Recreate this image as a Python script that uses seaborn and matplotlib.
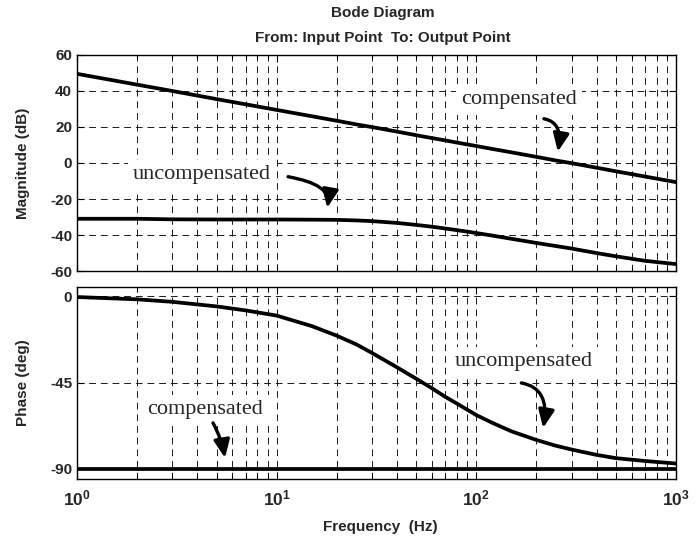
import numpy as np
import pandas as pd
import matplotlib
matplotlib.use("Agg")
import matplotlib.pyplot as plt
import seaborn as sns

# ---------------- data ----------------
freq = [1, 1.5, 2, 3, 5, 7, 10, 15, 20, 25, 30, 40, 50, 60, 70, 80, 100,
        120, 150, 200, 250, 300, 400, 500, 700, 1000]
mag_compensated = [49.4, 45.9, 43.4, 39.9, 35.4, 32.5, 29.4, 25.9, 23.4, 21.4,
                   19.9, 17.4, 15.4, 13.8, 12.5, 11.3, 9.4, 7.8, 5.9, 3.4,
                   1.4, -0.1, -2.6, -4.6, -7.5, -10.6]
mag_uncompensated = [-30.9, -30.9, -30.9, -31.2, -31.3, -31.3, -31.3, -31.4,
                     -31.5, -31.8, -32.2, -33.2, -34.3, -35.3, -36.3, -37.2,
                     -38.8, -40.2, -42.0, -44.3, -46.0, -47.4, -49.9, -51.7,
                     -54.2, -56.0]
phase_compensated = [-90.0] * len(freq)
phase_uncompensated = [-0.3, -1.0, -1.5, -2.8, -5.2, -7.3, -10.0, -15.5, -20.5,
                       -25.0, -29.5, -37.0, -43.0, -48.0, -52.5, -56.0, -62.0,
                       -66.0, -70.5, -75.0, -78.0, -80.0, -82.8, -84.5, -86.0,
                       -87.3]

mag_ticks = [-60, -40, -20, 0, 20, 40, 60]
phase_ticks = [-90, -45, 0]
decade_ticks = [1, 10, 100, 1000]

title = "Bode Diagram"
subtitle = "From: Input Point  To: Output Point"

# ---------------- style ----------------
sns.set_theme(style="ticks")
plt.rcParams["font.family"] = ["Liberation Sans", "DejaVu Sans"]
plt.rcParams["font.weight"] = "bold"
plt.rcParams["mathtext.fontset"] = "custom"
plt.rcParams["mathtext.rm"] = "Liberation Sans:bold"
plt.rcParams["mathtext.bf"] = "Liberation Sans:bold"
plt.rcParams["mathtext.it"] = "Liberation Sans:bold"

df = pd.DataFrame({
    "freq": freq * 4,
    "value": mag_compensated + mag_uncompensated + phase_compensated + phase_uncompensated,
    "panel": ["mag"] * (2 * len(freq)) + ["phase"] * (2 * len(freq)),
    "series": (["compensated"] * len(freq) + ["uncompensated"] * len(freq)) * 2,
})

fig = plt.figure(figsize=(7, 5.4), dpi=100)
W, H = 700, 540
ax1 = fig.add_axes([77 / W, 1 - 271.3 / H, 599 / W, 216.6 / H])
ax2 = fig.add_axes([77 / W, 1 - 479 / H, 599 / W, 192.3 / H])

FS = 11

for ax, panel in ((ax1, "mag"), (ax2, "phase")):
    sub = df[df["panel"] == panel]
    sns.lineplot(data=sub, x="freq", y="value", units="series", estimator=None,
                 sort=False, color="black", lw=2.7, ax=ax, legend=False, zorder=4)
    ax.set_xscale("log")
    ax.set_xlim(1, 1000)
    ax.set_xlabel("")
    ax.set_ylabel("")
    ax.set_axisbelow(True)
    ax.grid(which="major", axis="both", color="0.1", lw=0.7, ls=(0, (7, 5)))
    ax.grid(which="minor", axis="x", color="0.1", lw=0.7, ls=(0, (7, 5)))
    ax.tick_params(which="both", direction="in", top=True, right=True,
                   labelsize=FS, color="black", width=0.8)
    ax.tick_params(which="major", length=5)
    ax.tick_params(which="minor", length=3)
    for s in ax.spines.values():
        s.set_color("black")
        s.set_linewidth(1.0)
    ax.set_xticks(decade_ticks)
    ax.xaxis.set_minor_locator(matplotlib.ticker.LogLocator(base=10, subs=np.arange(2, 10)))
    ax.xaxis.set_minor_formatter(matplotlib.ticker.NullFormatter())

ax1.set_ylim(-60, 60)
ax1.set_yticks(mag_ticks)
ax1.set_yticklabels([str(t) for t in mag_ticks], fontweight="bold")
ax1.set_xticklabels([])
ax1.yaxis.set_minor_locator(matplotlib.ticker.NullLocator())

ax2.set_ylim(-95.4, 5.1)
ax2.set_yticks(phase_ticks)
ax2.set_yticklabels([str(t) for t in phase_ticks], fontweight="bold")
ax2.set_xticklabels([r"$\mathbf{10^{%d}}$" % int(np.log10(t)) for t in decade_ticks])
ax2.yaxis.set_minor_locator(matplotlib.ticker.NullLocator())
ax2.tick_params(axis="x", which="major", pad=7, labelsize=12.5)

fig.text(23 / W, 1 - 163 / H, "Magnitude (dB)", rotation=90, ha="center", va="center",
         fontsize=FS, fontweight="bold")
fig.text(23 / W, 1 - 383 / H, "Phase (deg)", rotation=90, ha="center", va="center",
         fontsize=FS, fontweight="bold")
fig.text(380 / W, 1 - 527 / H, "Frequency  (Hz)", ha="center", va="center",
         fontsize=FS, fontweight="bold")
fig.text(383 / W, 1 - 13 / H, title, ha="center", va="center", fontsize=FS, fontweight="bold")
fig.text(383 / W, 1 - 38 / H, subtitle, ha="center", va="center", fontsize=FS, fontweight="bold")

# ---------------- annotations ----------------
serif = dict(family=["Liberation Serif", "DejaVu Serif"], fontsize=16, fontweight="normal")
box = dict(boxstyle="square,pad=0.25", fc="white", ec="none")


def label(ax, x, y, s):
    ax.text(x, y, s, ha="center", va="center", bbox=box, zorder=5, **serif)


def arrow(ax, tail, tip, conn):
    ax.annotate("", xy=tip, xytext=tail, zorder=6,
                arrowprops=dict(arrowstyle="-|>,head_length=0.9,head_width=0.4",
                                connectionstyle=conn, color="black",
                                lw=2.4, shrinkA=0, shrinkB=0, mutation_scale=12))


hook = "angle3,angleA=-10,angleB=80"
label(ax1, 4.23, -6.5, "uncompensated")
arrow(ax1, (11.4, -7.6), (17.9, -24.8), hook)
label(ax1, 163.6, 35.2, "compensated")
arrow(ax1, (218, 24.5), (256, 6.3), hook)

label(ax2, 173, -34.2, "uncompensated")
arrow(ax2, (168, -45.2), (216, -68.7), hook)
label(ax2, 4.38, -59.3, "compensated")
arrow(ax2, (4.8, -66.1), (5.51, -84.4), "arc3,rad=-0.08")

fig.savefig("out.png", dpi=100)
